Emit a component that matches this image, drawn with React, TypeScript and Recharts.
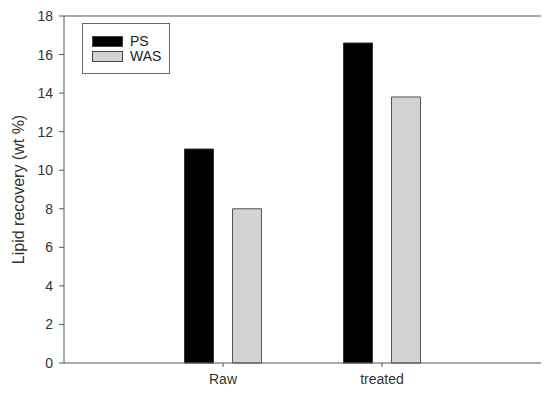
import React from "react";
import {
  BarChart,
  Bar,
  XAxis,
  YAxis,
  ReferenceLine,
} from "recharts";

const categories = ["Raw", "treated"];
const psValues = [11.1, 16.6];
const wasValues = [8.0, 13.8];
const yTicks = [0, 2, 4, 6, 8, 10, 12, 14, 16, 18];

const data = categories.map((name, i) => ({
  name,
  PS: psValues[i],
  WAS: wasValues[i],
}));

const FONT = "Arial, 'Liberation Sans', sans-serif";
const AXIS = "#555";

const legendItems = [
  { label: "PS", fill: "#000", top: 12 },
  { label: "WAS", fill: "#d3d3d3", top: 27 },
];

const LegendBox = () => (
  <div
    style={{
      position: "absolute",
      left: 82,
      top: 23,
      width: 86,
      height: 49,
      border: "1px solid #666",
      background: "#fff",
      fontFamily: FONT,
      fontSize: 14,
      color: "#222",
    }}
  >
    {legendItems.map((it) => (
      <div key={it.label} style={{ position: "absolute", left: 9, top: it.top, display: "flex", alignItems: "center" }}>
        <div style={{ width: 29, height: 9, background: it.fill, border: "1px solid #444" }} />
        <span style={{ marginLeft: 7, lineHeight: "11px" }}>{it.label}</span>
      </div>
    ))}
  </div>
);

export default function App() {
  return (
    <div style={{ position: "absolute", left: 0, top: 0, width: 550, height: 393, background: "#fff" }}>
      <BarChart
        width={550}
        height={393}
        data={data}
        margin={{ top: 16, right: 9, bottom: 0, left: 0 }}
        barSize={29}
        barGap={19}
      >
        <XAxis
          dataKey="name"
          height={30}
          padding={{ left: 79.5, right: 79.5 }}
          axisLine={{ stroke: AXIS }}
          tickLine={{ stroke: AXIS }}
          tickSize={4}
          tickMargin={7}
          tick={{ fill: "#333", fontSize: 14, fontFamily: FONT }}
        />
        <YAxis
          width={64}
          domain={[0, 18]}
          ticks={yTicks}
          interval={0}
          axisLine={{ stroke: AXIS }}
          tickLine={{ stroke: AXIS }}
          tickSize={5}
          tickMargin={6}
          tick={{ fill: "#333", fontSize: 14, fontFamily: FONT }}
          label={{
            value: "Lipid recovery (wt %)",
            angle: -90,
            position: "insideLeft",
            offset: 18,
            style: { fill: "#333", fontSize: 16, fontFamily: FONT, textAnchor: "middle" },
          }}
        />
        <YAxis
          yAxisId="right"
          orientation="right"
          width={0}
          domain={[0, 18]}
          tick={false}
          tickLine={false}
          axisLine={{ stroke: AXIS }}
        />
        <ReferenceLine y={18} stroke={AXIS} />
        <Bar dataKey="PS" fill="#000" stroke="#333" isAnimationActive={false} />
        <Bar dataKey="WAS" fill="#d3d3d3" stroke="#555" isAnimationActive={false} />
      </BarChart>
      <LegendBox />
    </div>
  );
}
